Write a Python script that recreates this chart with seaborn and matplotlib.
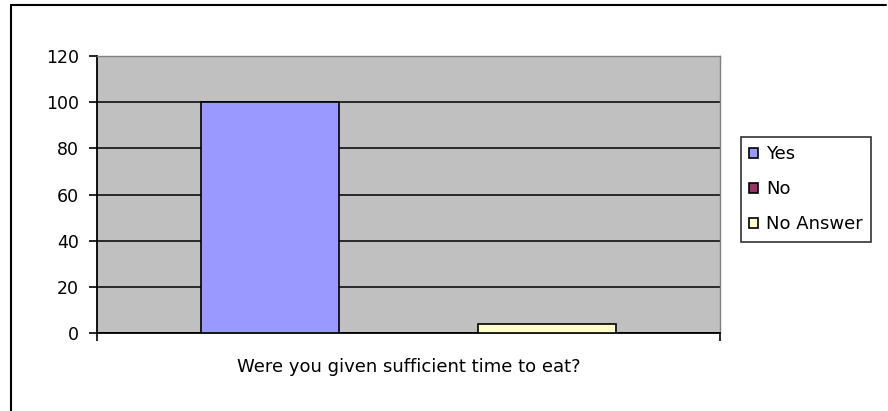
import pandas as pd
import matplotlib
matplotlib.use("Agg")
import matplotlib.pyplot as plt
import seaborn as sns
from matplotlib.lines import Line2D

question = "Were you given sufficient time to eat?"
answers = ["Yes", "No", "No Answer"]
percent = [100, 0, 4]
colors = {"Yes": "#9999FF", "No": "#993366", "No Answer": "#FFFFCC"}

df = pd.DataFrame({"question": [question] * len(answers), "answer": answers, "percent": percent})

sns.set_theme(style="white")
plt.rcParams["font.family"] = ["DejaVu Sans"]
plt.rcParams["text.color"] = "black"
plt.rcParams["xtick.labelcolor"] = "black"
plt.rcParams["ytick.labelcolor"] = "black"

fig = plt.figure(figsize=(8.88, 4.11), dpi=100)
ax = fig.add_axes([97 / 888, 1 - 333 / 411, (720 - 97) / 888, (333 - 56) / 411])
ax.set_facecolor("#C0C0C0")

sns.barplot(data=df, x="question", y="percent", hue="answer", hue_order=answers,
            palette=colors, width=0.665, saturation=1, edgecolor="black",
            linewidth=1.2, ax=ax, legend=True, zorder=3)

ax.set_xlim(-0.5, 0.5)
ax.set_ylim(0, 120)
ax.set_yticks(range(0, 121, 20))
ax.yaxis.grid(True, color="black", linewidth=1.1, zorder=1)
ax.set_axisbelow(True)
ax.set_xlabel("")
ax.set_ylabel("")

for s in ["left", "bottom"]:
    ax.spines[s].set_color("black")
    ax.spines[s].set_linewidth(1.3)
for s in ["top", "right"]:
    ax.spines[s].set_color("#808080")
    ax.spines[s].set_linewidth(1)

ax.tick_params(axis="y", direction="out", length=6, width=1.2, color="black",
               labelsize=12.5, labelcolor="black", pad=7, left=True)
ax.tick_params(axis="x", which="major", length=0, labelsize=13, labelcolor="black", pad=18)
ax.set_xticks([-0.5, 0.5], minor=True)
ax.tick_params(axis="x", which="minor", direction="out", length=6, width=1.2,
               color="black", bottom=True)

handles, labels = ax.get_legend_handles_labels()
ax.get_legend().remove()
leg = fig.legend(handles, labels, loc="upper left", bbox_to_anchor=(741 / 888, 1 - 137 / 411),
                 borderaxespad=0, frameon=True, fancybox=False, fontsize=13,
                 handlelength=0.5, handleheight=0.5, handletextpad=0.45,
                 labelspacing=0.95, borderpad=0.45, edgecolor="black", labelcolor="black")
leg.get_frame().set_linewidth(1.2)

# outer chart border (top and left edges visible)
fig.add_artist(Line2D([11 / 888, 886 / 888], [1 - 5 / 411, 1 - 5 / 411], color="black",
                      linewidth=1.5, transform=fig.transFigure))
fig.add_artist(Line2D([11 / 888, 11 / 888], [0, 1 - 5 / 411], color="black",
                      linewidth=1.5, transform=fig.transFigure))

fig.savefig("out.png", dpi=100)
